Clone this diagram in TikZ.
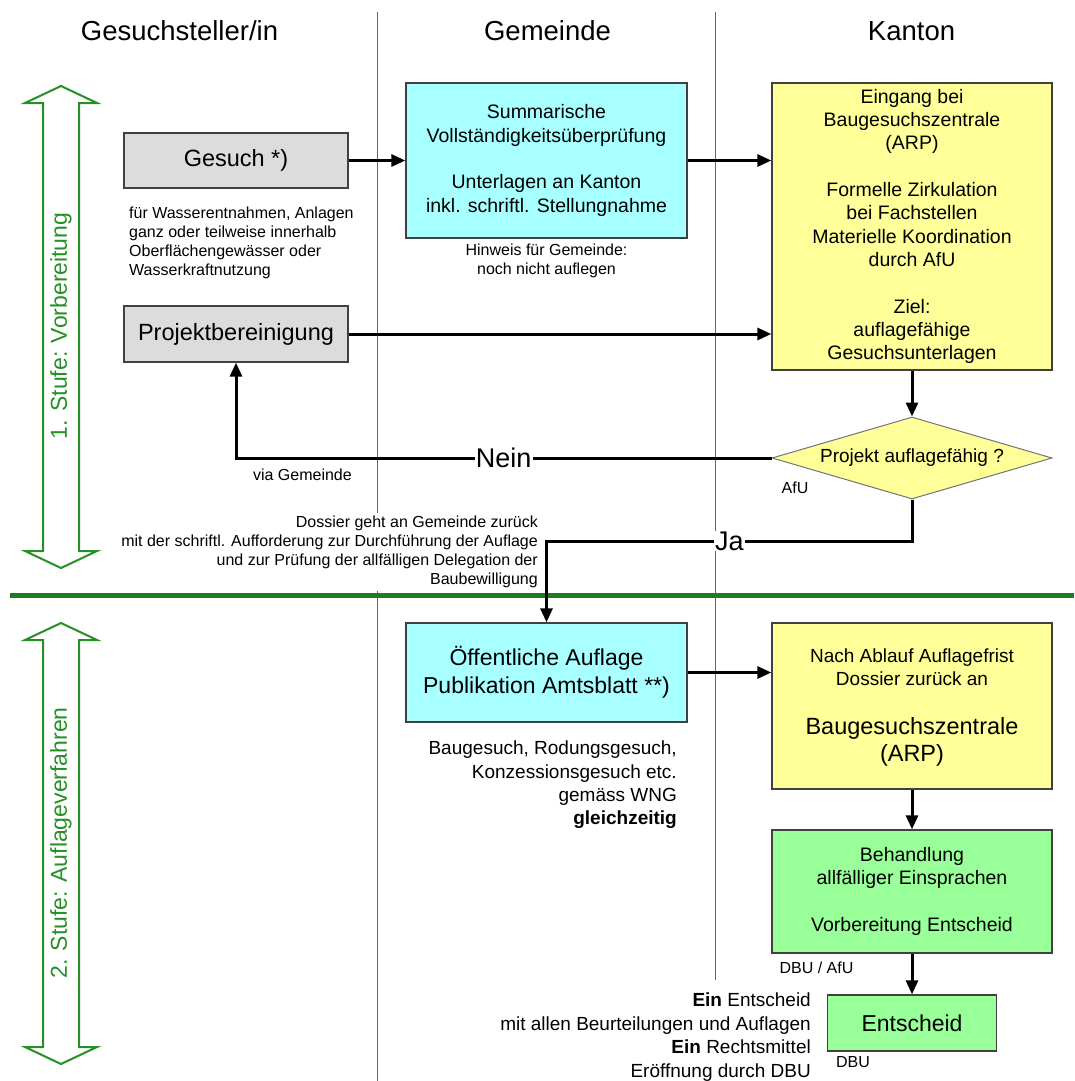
\documentclass[tikz,border=0pt]{standalone}
\usepackage{fontspec}
\setmainfont{Liberation Sans}
\usetikzlibrary{positioning,shapes.geometric,arrows.meta}
\definecolor{boxgray}{HTML}{DCDCDC}
\definecolor{boxcyan}{HTML}{A8FFFF}
\definecolor{boxyellow}{HTML}{FFFF99}
\definecolor{boxgreen}{HTML}{99FF99}
\definecolor{stagegreen}{HTML}{259025}
\definecolor{rulegreen}{HTML}{1E7E1E}
\newcommand{\fsz}[2]{\fontsize{#1}{#2}\selectfont}

\begin{document}
\begin{tikzpicture}[x=1pt, y=-1pt,
            lane/.style={draw=black!60, line width=0.8pt},
            head/.style={font=\fsz{27.5}{33}},
            box/.style={rectangle, draw=black!75, line width=1.3pt, align=center, inner sep=0pt, font=\fsz{19.5}{23.3}},
            graybox/.style={box, fill=boxgray, font=\fsz{23.5}{28}, minimum width=224pt, minimum height=55pt},
            cyanbox/.style={box, fill=boxcyan, minimum width=281pt},
            yellowbox/.style={box, fill=boxyellow, minimum width=280pt},
            greenbox/.style={box, fill=boxgreen},
            decision/.style={diamond, draw=black!55, line width=1pt, fill=boxyellow, aspect=3.4, inner sep=0pt,
                minimum width=280pt, minimum height=82pt, font=\fsz{19}{23}},
            note/.style={font=\fsz{16}{19}, inner sep=2pt},
            remark/.style={font=\fsz{19}{23.4}, align=right, inner sep=2pt},
            answer/.style={font=\fsz{27}{32}, fill=white, inner sep=1pt},
            stage/.style={draw=stagegreen, line width=2pt, line join=miter},
            stagetext/.style={text=stagegreen, font=\fsz{23}{27}, rotate=90},
            flow/.style={-{Triangle[length=14pt,width=12pt]}, line width=3pt}
        ]
        \useasboundingbox (0,0) rectangle (1074,1081);

        %lanes
        \draw[lane] (377,12) -- (377,1081);
        \draw[lane] (715,12) -- (715,980);
        \draw[rulegreen, line width=5pt] (10,595.5) -- (1074,595.5);

        %headings
        \node[head] (h1) at (179.5,31) {Gesuchsteller/in};
        \node[head] (h2) at (547.5,31) {Gemeinde};
        \node[head] (h3) at (911.5,31) {Kanton};

        %stages
        \foreach \ytop/\ybot in {86/568, 623/1064}
            \draw[stage] (61,\ytop) -- (97,\ytop+17) -- (79,\ytop+17) -- (79,\ybot-17) -- (97,\ybot-17)
                -- (61,\ybot) -- (25,\ybot-17) -- (43,\ybot-17) -- (43,\ytop+17) -- (25,\ytop+17) -- cycle;
        \node[stagetext] (st1) at (61,326) {1. Stufe: Vorbereitung};
        \node[stagetext] (st2) at (61,843) {2. Stufe: Auflageverfahren};

        %blocks, 1. Stufe
        \node[graybox] (gesuch) at (236,160.5) {Gesuch *)};
        \node[graybox, minimum height=56pt] (proj) at (236,334) {Projektbereinigung};
        \node[cyanbox, minimum height=155pt] (summ) at (546.5,160.5)
            {Summarische\\Vollständigkeitsüberprüfung\\[23.3pt]Unterlagen an Kanton\\inkl. schriftl. Stellungnahme};
        \node[yellowbox, minimum height=287pt] (bgz) at (912,226.5)
            {Eingang bei\\Baugesuchszentrale\\(ARP)\\[23.3pt]Formelle Zirkulation\\bei Fachstellen\\Materielle Koordination\\durch AfU\\[23.3pt]Ziel:\\auflagefähige\\Gesuchsunterlagen};
        \node[decision] (dia) at (912,458) {Projekt auflagefähig ?};

        %blocks, 2. Stufe
        \node[cyanbox, minimum height=99pt, font=\fsz{23}{27.6}] (oeff) at (546.5,672.5)
            {Öffentliche Auflage\\Publikation Amtsblatt **)};
        \node[yellowbox, minimum height=166pt] (nach) at (912,706) {};
        \node[font=\fsz{19}{23}, align=center] (nachtxt) at (912,667) {Nach Ablauf Auflagefrist\\Dossier zurück an};
        \node[font=\fsz{23.5}{27}, align=center] (nachbgz) at (912,742) {Baugesuchszentrale\\(ARP)};
        \node[greenbox, minimum width=280pt, minimum height=123pt] (beh) at (912,891.5)
            {Behandlung\\allfälliger Einsprachen\\[23.3pt]Vorbereitung Entscheid};
        \node[greenbox, minimum width=169pt, minimum height=56pt, font=\fsz{23}{27}] (ents) at (912,1023) {Entscheid};

        %notes
        \node[note, align=left, anchor=west] (gesuchnote) at (127,243)
            {für Wasserentnahmen, Anlagen\\ganz oder teilweise innerhalb\\Oberflächengewässer oder\\Wasserkraftnutzung};
        \node[note, align=center, below=3pt of summ] (hinweis) {Hinweis für Gemeinde:\\noch nicht auflegen};
        \node[note, anchor=east] (via) at (354,475) {via Gemeinde};
        \node[note] (afu) at (795,488) {AfU};
        \node[note, align=right, fill=white, inner sep=3pt, anchor=east] (dossier) at (541,552)
            {Dossier geht an Gemeinde zurück\\mit der schriftl. Aufforderung zur Durchführung der Auflage\\und zur Prüfung der allfälligen Delegation der\\Baubewilligung};
        \node[remark, anchor=east] (gleich) at (679,785)
            {Baugesuch, Rodungsgesuch,\\Konzessionsgesuch etc.\\gemäss WNG\\\textbf{gleichzeitig}};
        \node[note, below right=6pt and 6pt of beh.south west] (dbuafu) {DBU / AfU};
        \node[note, below right=3pt and 7pt of ents.south west] (dbu) {DBU};
        \node[remark, anchor=east] (einnote) at (813,1037)
            {\textbf{Ein} Entscheid\\mit allen Beurteilungen und Auflagen\\\textbf{Ein} Rechtsmittel\\Eröffnung durch DBU};

        %arrows
        \draw[flow] (gesuch) -- (summ);
        \draw[flow] (summ.east) -- (summ.east -| bgz.west);
        \draw[flow] (proj.east) -- (proj.east -| bgz.west);
        \draw[flow] (bgz) -- (dia);
        \draw[flow] (dia.west) -- node[answer] {Nein} (dia.west -| proj) -- (proj.south);
        \coordinate (jarow) at (0,541);
        \draw[flow] (dia.south) -- (dia.south |- jarow) -- node[answer] {Ja} (oeff.north |- jarow) -- (oeff.north);
        \draw[flow] (oeff.east) -- (oeff.east -| nach.west);
        \draw[flow] (nach) -- (beh);
        \draw[flow] (beh) -- (ents);

\end{tikzpicture}
\end{document}
